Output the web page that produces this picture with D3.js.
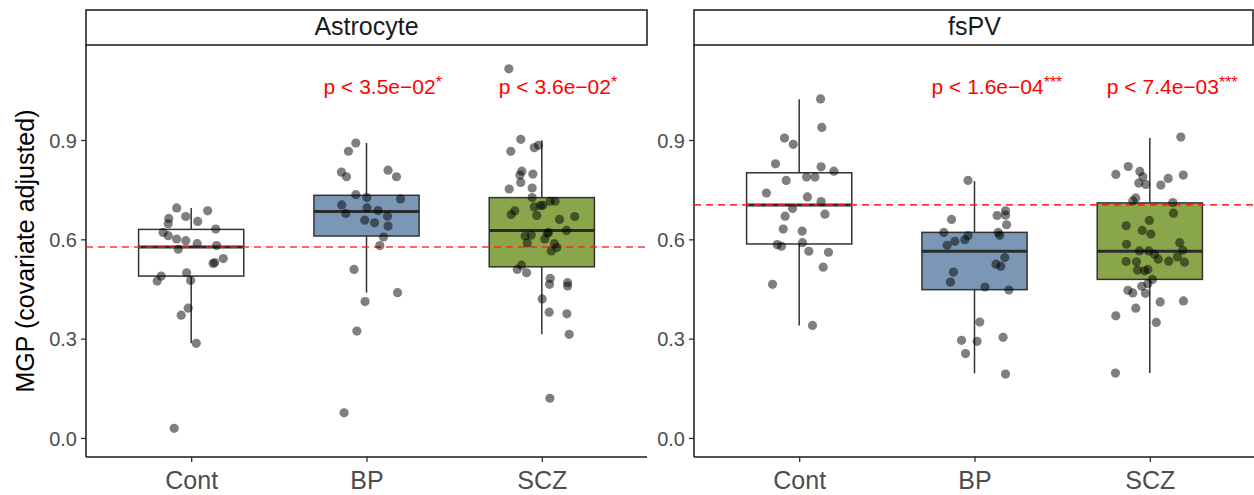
<!DOCTYPE html>
<html>
<head>
<meta charset="utf-8">
<script src="https://cdn.jsdelivr.net/npm/d3@7"></script>
<style>
  body { margin: 0; background: #fff; }
  svg { display: block; font-family: "Liberation Sans", Arial, Helvetica, sans-serif; }
</style>
</head>
<body>
<svg width="1254" height="495"></svg>
<script>
// categories / panels
var categories = ["Cont", "BP", "SCZ"];
var panels = ["Astrocyte", "fsPV"];
var yTicks = [0.0, 0.3, 0.6, 0.9];
var boxFills = ["#ffffff", "#7a97b5", "#8aa64b"];

// dashed reference line (control median) per panel
var refLines = [0.577, 0.704];

// p value labels, one per panel, for BP and SCZ
var pTexts = [["p < 3.5e\u221202", "p < 3.6e\u221202"], ["p < 1.6e\u221204", "p < 7.4e\u221203"]];
var pStars = [["*", "*"], ["***", "***"]];

// box stats: [lower whisker, q1, median, q3, upper whisker]
var astroBoxes = [
    [0.287, 0.489, 0.577, 0.630, 0.695],
    [0.439, 0.610, 0.684, 0.733, 0.891],
    [0.313, 0.517, 0.627, 0.726, 0.899]
];
var fspvBoxes = [
    [0.340, 0.586, 0.704, 0.801, 1.023],
    [0.195, 0.448, 0.564, 0.621, 0.776],
    [0.196, 0.479, 0.564, 0.710, 0.906]
];

// points: [jitter (category units), value]
var astroCont = [[-0.083,0.695],[0.094,0.686],[-0.128,0.663],[-0.031,0.669],[0.037,0.654],[-0.131,0.647],
    [0.140,0.631],[-0.160,0.621],[-0.131,0.611],[-0.083,0.601],[-0.031,0.596],[0.034,0.587],[0.145,0.581],
    [-0.074,0.570],[0.183,0.542],[0.125,0.527],[0.134,0.530],[-0.026,0.499],[-0.171,0.489],[-0.194,0.474],
    [-0.003,0.476],[-0.017,0.392],[-0.057,0.371],[0.029,0.286],[-0.097,0.029]];
var astroBP = [[-0.061,0.891],[-0.103,0.866],[-0.143,0.803],[-0.114,0.789],[0.123,0.809],[0.171,0.789],
    [-0.061,0.735],[0.002,0.726],[-0.141,0.704],[0.003,0.695],[-0.118,0.678],[0.066,0.687],[0.120,0.670],
    [-0.010,0.658],[0.046,0.650],[0.123,0.640],[0.097,0.607],[0.076,0.581],[-0.071,0.509],[-0.008,0.412],
    [-0.055,0.323],[-0.128,0.076],[0.194,0.722],[0.177,0.439]];
var astroSCZ = [[-0.188,1.115],[-0.120,0.902],[-0.043,0.877],[-0.019,0.884],[-0.177,0.866],[-0.114,0.806],
    [-0.125,0.794],[-0.051,0.797],[-0.120,0.772],[-0.186,0.752],[-0.055,0.755],[-0.055,0.726],[0.048,0.715],
    [0.076,0.715],[-0.043,0.698],[-0.007,0.702],[0.006,0.703],[-0.154,0.686],[-0.175,0.675],[-0.029,0.672],
    [0.188,0.669],[0.101,0.660],[0.141,0.627],[0.038,0.621],[0.031,0.618],[-0.060,0.613],[-0.095,0.610],
    [0.017,0.601],[-0.083,0.589],[0.072,0.587],[0.086,0.575],[0.054,0.565],[-0.116,0.522],[-0.140,0.509],
    [-0.087,0.499],[0.048,0.482],[0.044,0.464],[0.147,0.469],[0.147,0.459],[0.002,0.420],[0.042,0.380],
    [0.143,0.375],[0.156,0.313],[0.046,0.120]];
var fspvCont = [[0.122,1.024],[0.129,0.938],[-0.084,0.906],[-0.034,0.887],[-0.135,0.828],[0.125,0.819],
    [0.198,0.806],[0.042,0.788],[0.090,0.788],[-0.074,0.778],[-0.187,0.740],[0.047,0.728],[0.125,0.714],
    [-0.038,0.693],[-0.080,0.670],[0.147,0.676],[-0.091,0.631],[0.017,0.625],[0.019,0.590],[-0.125,0.584],
    [-0.101,0.579],[0.055,0.564],[0.167,0.561],[0.137,0.516],[-0.152,0.464],[0.076,0.340]];
var fspvBP = [[-0.131,0.660],[-0.175,0.621],[-0.156,0.582],[-0.112,0.594],[-0.120,0.501],[-0.137,0.471],
    [-0.037,0.778],[-0.055,0.599],[-0.037,0.611],[0.129,0.672],[0.177,0.686],[0.177,0.673],[0.183,0.644],
    [0.135,0.621],[0.144,0.612],[0.173,0.545],[0.123,0.525],[0.150,0.519],[0.060,0.456],[0.196,0.447],
    [0.030,0.350],[-0.074,0.295],[0.015,0.292],[-0.051,0.255],[0.163,0.304],[0.177,0.193]];
var fspvSCZ = [[0.177,0.909],[-0.123,0.820],[-0.194,0.796],[-0.057,0.805],[-0.040,0.789],[-0.063,0.770],
    [-0.023,0.766],[0.105,0.784],[0.191,0.794],[0.063,0.764],[-0.080,0.725],[-0.097,0.716],[0.131,0.711],
    [0.135,0.679],[-0.003,0.657],[-0.135,0.641],[-0.043,0.627],[0.006,0.616],[-0.133,0.585],[0.171,0.590],
    [-0.059,0.565],[-0.006,0.565],[0.188,0.567],[0.027,0.555],[0.048,0.540],[0.158,0.547],[-0.135,0.533],
    [-0.076,0.532],[0.108,0.534],[0.198,0.531],[-0.070,0.507],[-0.030,0.505],[-0.011,0.509],[0.015,0.479],
    [-0.011,0.466],[-0.046,0.458],[-0.125,0.446],[-0.097,0.438],[-0.025,0.437],[0.059,0.411],[0.192,0.414],
    [-0.080,0.392],[-0.194,0.369],[0.037,0.349],[-0.196,0.196]];

var boxes = [astroBoxes, fspvBoxes];
var points = [[astroCont, astroBP, astroSCZ], [fspvCont, fspvBP, fspvSCZ]];

var svg = d3.select("svg");
var panelLeft = [86, 694];
var panelW = 561;
var stripTop = 10, plotTop = 45, plotBottom = 457;

var y = d3.scaleLinear().domain([-0.0575, 1.187]).range([plotBottom, plotTop]);

panels.forEach(function(name, p) {
    var x = d3.scalePoint()
        .domain(categories)
        .range([panelLeft[p], panelLeft[p] + panelW])
        .padding(0.6);
    var step = x.step();
    var bw = step * 0.6;
    var g = svg.append("g");

    // strip
    g.append("rect")
        .attr("x", panelLeft[p]).attr("y", stripTop)
        .attr("width", panelW - (p == 1 ? 2 : 0)).attr("height", plotTop - stripTop)
        .attr("fill", "#fff").attr("stroke", "#1a1a1a").attr("stroke-width", 1.5);
    g.append("text")
        .attr("x", panelLeft[p] + panelW / 2).attr("y", 35)
        .attr("text-anchor", "middle").attr("font-size", 25).attr("fill", "#1a1a1a")
        .text(name);

    // axes
    var yAxis = d3.axisLeft(y).tickValues(yTicks).tickFormat(d3.format(".1f")).tickSize(5).tickPadding(4);
    var ya = g.append("g").attr("transform", "translate(" + panelLeft[p] + ",0)").call(yAxis);
    ya.select(".domain").remove();
    ya.selectAll("line").attr("stroke", "#333").attr("stroke-width", 1.3);
    ya.selectAll("text").attr("font-size", 20).attr("fill", "#4d4d4d").attr("dy", "0.36em");

    var xAxis = d3.axisBottom(x).tickSize(5).tickPadding(9);
    var xa = g.append("g").attr("transform", "translate(0," + plotBottom + ")").call(xAxis);
    xa.select(".domain").remove();
    xa.selectAll("line").attr("stroke", "#333").attr("stroke-width", 1.3);
    xa.selectAll("text").attr("font-size", 25).attr("fill", "#4d4d4d");

    g.append("line")
        .attr("x1", panelLeft[p]).attr("x2", panelLeft[p])
        .attr("y1", plotTop).attr("y2", plotBottom)
        .attr("stroke", "#1a1a1a").attr("stroke-width", 1.5);
    g.append("line")
        .attr("x1", panelLeft[p]).attr("x2", panelLeft[p] + panelW)
        .attr("y1", plotBottom).attr("y2", plotBottom)
        .attr("stroke", "#1a1a1a").attr("stroke-width", 1.5);

    // boxplots
    boxes[p].forEach(function(b, i) {
        var cx = x(categories[i]);
        g.append("line").attr("x1", cx).attr("x2", cx).attr("y1", y(b[3])).attr("y2", y(b[4]))
            .attr("stroke", "#333").attr("stroke-width", 1.5);
        g.append("line").attr("x1", cx).attr("x2", cx).attr("y1", y(b[1])).attr("y2", y(b[0]))
            .attr("stroke", "#333").attr("stroke-width", 1.5);
        g.append("rect")
            .attr("x", cx - bw / 2).attr("y", y(b[3]))
            .attr("width", bw).attr("height", y(b[1]) - y(b[3]))
            .attr("fill", boxFills[i]).attr("stroke", "#333").attr("stroke-width", 1.5);
        g.append("line").attr("x1", cx - bw / 2).attr("x2", cx + bw / 2)
            .attr("y1", y(b[2])).attr("y2", y(b[2]))
            .attr("stroke", "#2b2b2b").attr("stroke-width", 3);
    });

    // reference line
    g.append("line")
        .attr("x1", panelLeft[p]).attr("x2", panelLeft[p] + panelW)
        .attr("y1", y(refLines[p])).attr("y2", y(refLines[p]))
        .attr("stroke", "#ff2020").attr("stroke-width", 1.6)
        .attr("stroke-dasharray", "7,5").attr("opacity", 0.9);

    // jittered points
    points[p].forEach(function(pts, i) {
        g.append("g").selectAll("circle")
            .data(pts)
            .enter().append("circle")
            .attr("cx", function(d) { return x(categories[i]) + d[0] * step; })
            .attr("cy", function(d) { return y(d[1]); })
            .attr("r", 4.6)
            .attr("fill", "#000").attr("fill-opacity", 0.5);
    });

    // p values
    pTexts[p].forEach(function(t, j) {
        var txt = g.append("text")
            .attr("x", x(categories[j + 1]) - 0.245 * step)
            .attr("y", y(1.04))
            .attr("font-size", 21).attr("fill", "#ff0000");
        txt.append("tspan").text(t);
        txt.append("tspan").attr("font-size", 16).attr("dy", -6).text(pStars[p][j]);
    });
});

// y axis title
svg.append("text")
    .attr("transform", "translate(34," + ((plotTop + plotBottom) / 2) + ") rotate(-90)")
    .attr("text-anchor", "middle").attr("font-size", 25).attr("fill", "#000")
    .text("MGP (covariate adjusted)");
</script>
</body>
</html>
